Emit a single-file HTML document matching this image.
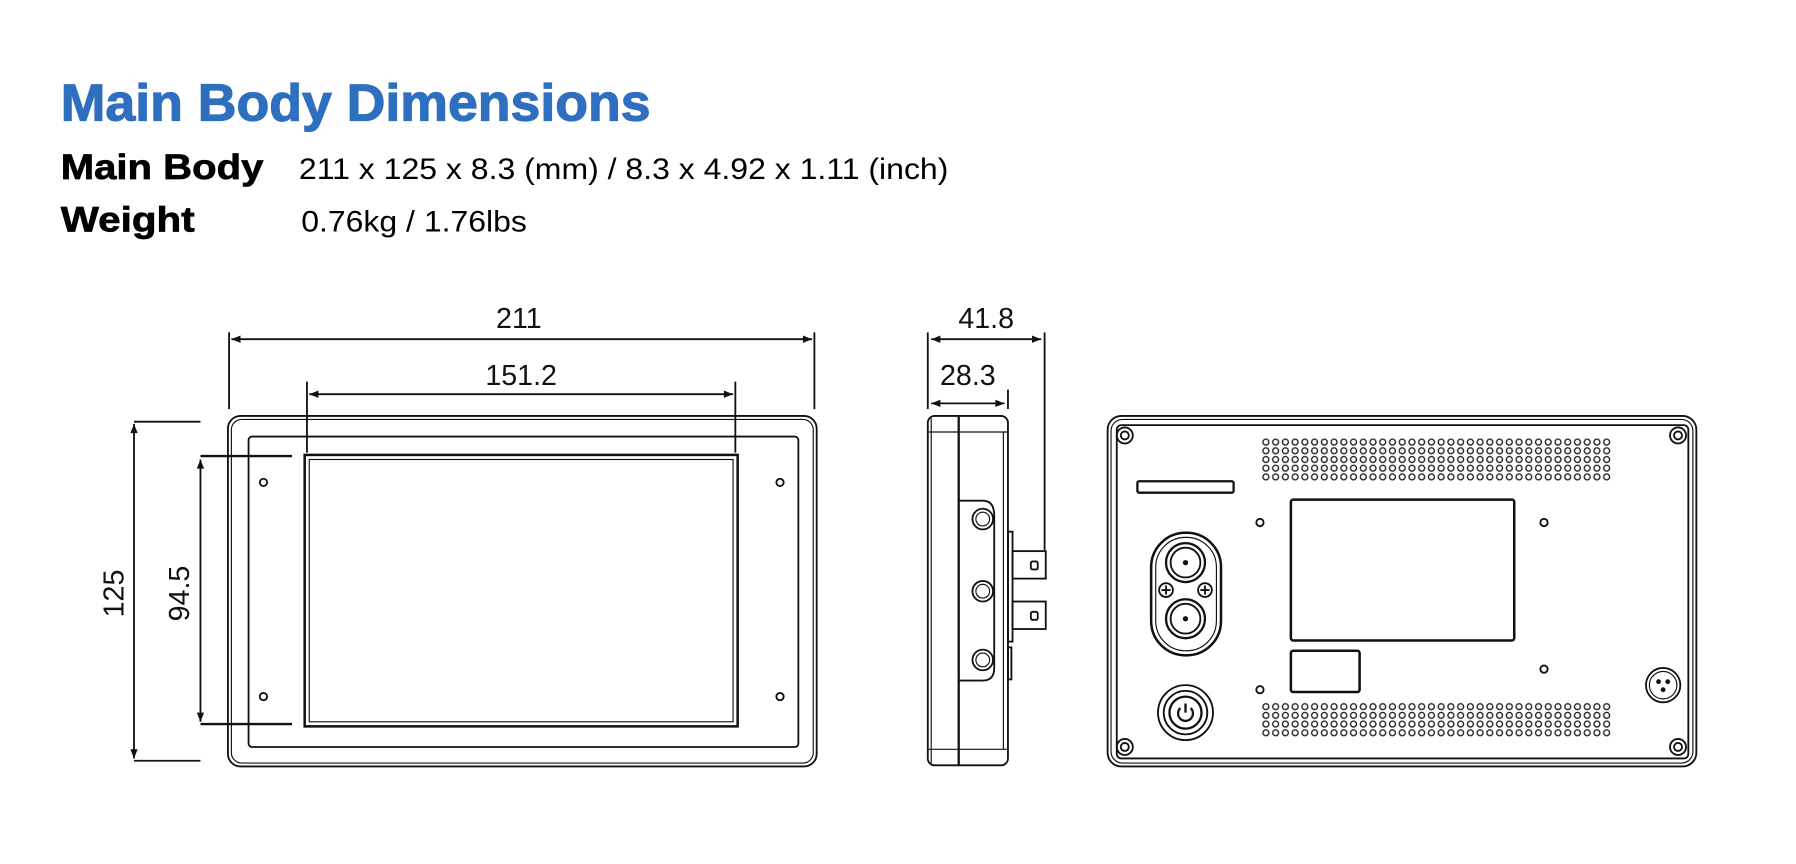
<!DOCTYPE html>
<html><head><meta charset="utf-8"><style>
html,body{margin:0;padding:0;background:#fff;width:1796px;height:864px;overflow:hidden}
svg{display:block}
text{font-family:"Liberation Sans",Arial,sans-serif}
</style></head><body>
<svg width="1796" height="864" viewBox="0 0 1568 754" xmlns="http://www.w3.org/2000/svg">
<defs>
<marker id="a" viewBox="0 0 10 10" refX="10" refY="5" markerWidth="10" markerHeight="8" orient="auto-start-reverse" markerUnits="userSpaceOnUse"><path d="M0,1 L10,5 L0,9 z" fill="#111"/></marker>
<pattern id="v" x="1101" y="382" width="8.5" height="7.6" patternUnits="userSpaceOnUse"><circle cx="4.2" cy="3.8" r="2.6" fill="none" stroke="#222" stroke-width="1.2"/></pattern>
<pattern id="v2" x="1101" y="613" width="8.5" height="7.6" patternUnits="userSpaceOnUse"><circle cx="4.2" cy="3.8" r="2.6" fill="none" stroke="#222" stroke-width="1.2"/></pattern>
</defs>
<text x="53" y="105" font-size="45" font-weight="bold" fill="#2f6fbf" stroke="#2f6fbf" stroke-width="1" textLength="515" lengthAdjust="spacingAndGlyphs">Main Body Dimensions</text>
<text x="53" y="156" font-size="31" font-weight="bold" fill="#000" stroke="#000" stroke-width="0.6" textLength="177" lengthAdjust="spacingAndGlyphs">Main Body</text>
<text x="261" y="156" font-size="26" fill="#000" textLength="567" lengthAdjust="spacingAndGlyphs">211 x 125 x 8.3 (mm) / 8.3 x 4.92 x 1.11 (inch)</text>
<text x="53" y="202" font-size="31" font-weight="bold" fill="#000" stroke="#000" stroke-width="0.6" textLength="117" lengthAdjust="spacingAndGlyphs">Weight</text>
<text x="263" y="202" font-size="26" fill="#000" textLength="197" lengthAdjust="spacingAndGlyphs">0.76kg / 1.76lbs</text>

<g fill="none" stroke="#111" stroke-width="1.6">
<rect x="199" y="363" width="514" height="306" rx="11"/>
<rect x="202" y="366" width="508" height="300" rx="9" stroke-width="1"/>
<rect x="217" y="381" width="480" height="271" rx="3"/>
<rect x="266" y="397" width="378" height="237" stroke-width="2.2"/>
<rect x="270" y="401" width="370" height="229" stroke-width="1"/>
<circle cx="230" cy="421" r="3.2"/><circle cx="681" cy="421" r="3.2"/>
<circle cx="230" cy="608" r="3.2"/><circle cx="681" cy="608" r="3.2"/>
<line x1="200" y1="290" x2="200" y2="357"/><line x1="711" y1="290" x2="711" y2="357"/>
<line x1="202" y1="296" x2="709" y2="296" marker-start="url(#a)" marker-end="url(#a)"/>
<line x1="268" y1="333" x2="268" y2="395"/><line x1="642" y1="333" x2="642" y2="395"/>
<line x1="270" y1="344" x2="640" y2="344" marker-start="url(#a)" marker-end="url(#a)"/>
<line x1="117" y1="368" x2="175" y2="368"/><line x1="117" y1="664" x2="175" y2="664"/>
<line x1="117" y1="370" x2="117" y2="662" marker-start="url(#a)" marker-end="url(#a)"/>
<line x1="175" y1="398" x2="255" y2="398" stroke-width="2"/><line x1="175" y1="632" x2="255" y2="632" stroke-width="2"/>
<line x1="175" y1="401" x2="175" y2="630" marker-start="url(#a)" marker-end="url(#a)"/>

<rect x="810" y="363" width="70" height="305" rx="6"/>
<line x1="837" y1="363" x2="837" y2="668" stroke-width="2"/>
<line x1="810" y1="377" x2="880" y2="377" stroke-width="1"/>
<line x1="810" y1="654" x2="880" y2="654" stroke-width="1"/>
<line x1="876" y1="377" x2="876" y2="654" stroke-width="1"/>
<line x1="813" y1="365" x2="813" y2="666" stroke-width="1"/>
<path d="M837,437 H858 Q868,437 868,450 V583 Q868,594 858,594 H837"/>
<circle cx="858" cy="453" r="9"/><circle cx="858" cy="453" r="6" stroke-width="1"/>
<circle cx="858" cy="516" r="9"/><circle cx="858" cy="516" r="6" stroke-width="1"/>
<circle cx="858" cy="576" r="9"/><circle cx="858" cy="576" r="6" stroke-width="1"/>
<rect x="880" y="464" width="4" height="96"/>
<rect x="880" y="565" width="3" height="28"/>
<rect x="884" y="481" width="29" height="24"/><rect x="884" y="525" width="29" height="24"/>
<rect x="900" y="490" width="6" height="7" rx="1.5"/><rect x="900" y="534" width="6" height="7" rx="1.5"/>
<line x1="810" y1="290" x2="810" y2="357"/><line x1="912" y1="290" x2="912" y2="480"/><line x1="880" y1="340" x2="880" y2="357"/>
<line x1="813" y1="296" x2="909" y2="296" marker-start="url(#a)" marker-end="url(#a)"/>
<line x1="813" y1="352" x2="877" y2="352" marker-start="url(#a)" marker-end="url(#a)"/>

<rect x="967" y="363" width="514" height="306" rx="12"/>
<rect x="970" y="366" width="508" height="300" rx="10" stroke-width="1"/>
<rect x="975" y="371" width="499" height="291" rx="4"/>
<circle cx="982" cy="380" r="7"/><circle cx="982" cy="380" r="3.5"/>
<circle cx="1465" cy="380" r="7"/><circle cx="1465" cy="380" r="3.5"/>
<circle cx="982" cy="652" r="7"/><circle cx="982" cy="652" r="3.5"/>
<circle cx="1465" cy="652" r="7"/><circle cx="1465" cy="652" r="3.5"/>
<rect x="993" y="420" width="84" height="10" rx="1.5" stroke-width="2"/>
<rect x="1005" y="465" width="61" height="107" rx="30" stroke-width="2.2"/>
<rect x="1009" y="469" width="53" height="99" rx="26" stroke-width="1"/>
<circle cx="1035" cy="491" r="17" stroke-width="2"/><circle cx="1035" cy="491" r="13"/><circle cx="1035" cy="491" r="1.5" fill="#111"/>
<circle cx="1035" cy="540" r="17" stroke-width="2"/><circle cx="1035" cy="540" r="13"/><circle cx="1035" cy="540" r="1.5" fill="#111"/>
<circle cx="1018" cy="515" r="6"/><path d="M1014,515 h8 M1018,511 v8"/>
<circle cx="1052" cy="515" r="6"/><path d="M1048,515 h8 M1052,511 v8"/>
<circle cx="1100" cy="456" r="3.2"/><circle cx="1348" cy="456" r="3.2"/>
<circle cx="1100" cy="602" r="3.2"/><circle cx="1348" cy="584" r="3.2"/>
<rect x="1127" y="436" width="195" height="123" rx="2" stroke-width="2.2"/>
<rect x="1127" y="568" width="60" height="36" rx="2" stroke-width="2.2"/>
<circle cx="1035" cy="622" r="24"/><circle cx="1035" cy="622" r="19"/><circle cx="1035" cy="622" r="14" stroke-width="2"/>
<path d="M1030.5,618 A6.5,6.5 0 1 0 1039.5,618 M1035,614 v8" stroke-width="2"/>
<circle cx="1452" cy="598" r="15"/><circle cx="1452" cy="598" r="12" stroke-width="1"/>
<circle cx="1448" cy="595" r="1.3" fill="#111"/><circle cx="1456" cy="595" r="1.3" fill="#111"/><circle cx="1452" cy="602" r="1.3" fill="#111"/>
</g>
<rect x="1101" y="382" width="306" height="38" fill="url(#v)"/>
<rect x="1101" y="613" width="306" height="30.4" fill="url(#v2)"/>

<g font-size="25" fill="#111" text-anchor="middle">
<text x="453" y="286">211</text>
<text x="455" y="336">151.2</text>
<text x="861" y="286">41.8</text>
<text x="845" y="336">28.3</text>
<text transform="translate(108,518) rotate(-90)">125</text>
<text transform="translate(165,518) rotate(-90)">94.5</text>
</g>
</svg>
</body></html>
